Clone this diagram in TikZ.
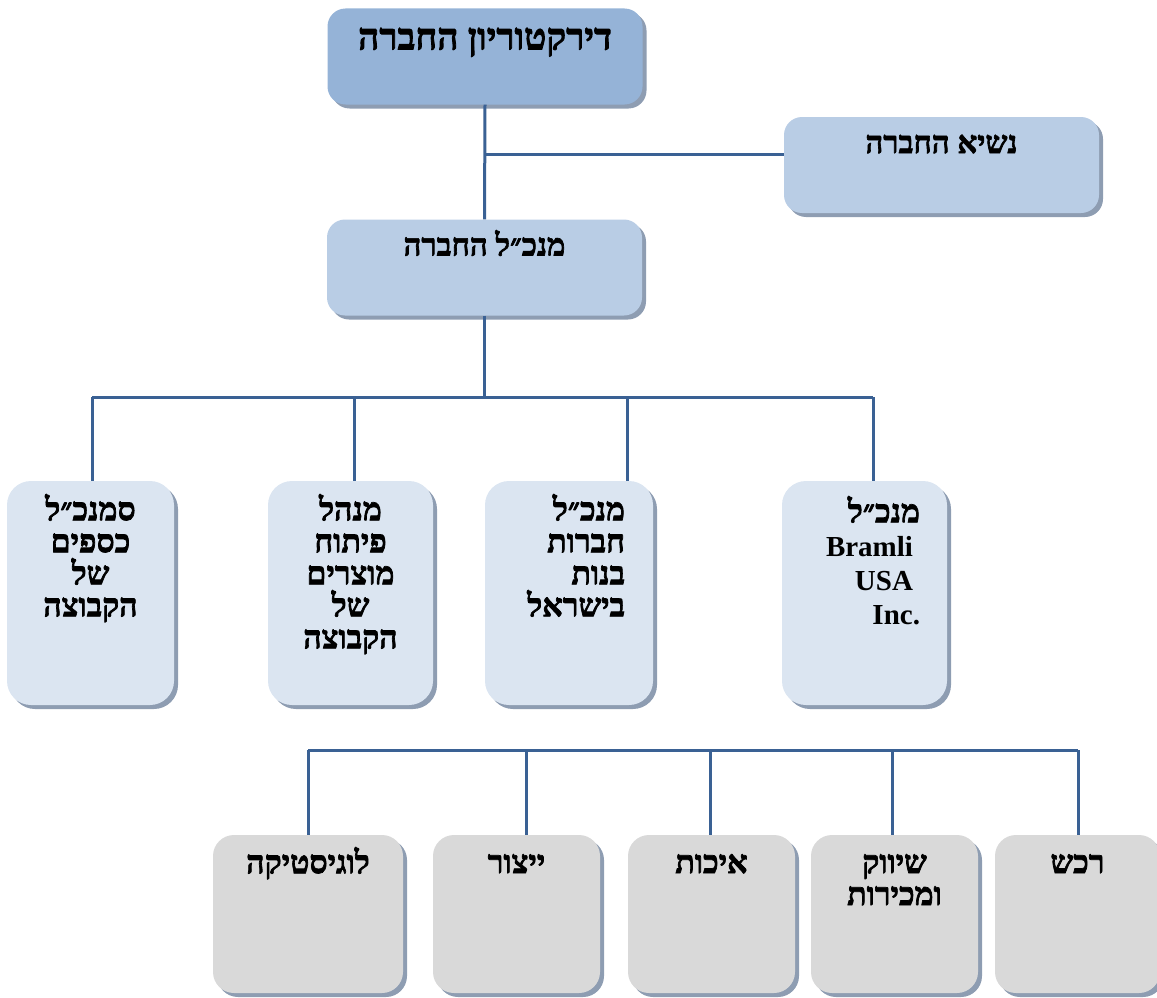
\documentclass[tikz,border=0pt]{standalone}
\usepackage{fontspec}
\setmainfont{Liberation Serif}
\newfontfamily\hebfont[Script=Hebrew, BoldFeatures={FakeBold=2.2}]{Liberation Serif}
\TeXXeTstate=1
\usetikzlibrary{positioning,shadows}

\definecolor{boardblue}{HTML}{95B3D7}
\definecolor{headblue}{HTML}{B9CDE5}
\definecolor{unitblue}{HTML}{DBE5F1}
\definecolor{deptgrey}{HTML}{D9D9D9}
\definecolor{shadegrey}{HTML}{8E9DB2}
\definecolor{linkblue}{HTML}{3A6194}

\newcommand{\heb}[1]{\beginR#1\endR}
\newcommand{\firststrut}{\rule{0pt}{26pt}}
\newcommand{\latin}[1]{{\rmfamily\bfseries\fontsize{29}{34}\selectfont #1}}

\begin{document}
\begin{tikzpicture}[
    x=1pt, y=-1pt,
    box/.style={rectangle, draw=none, inner sep=0pt,
      drop shadow={shadow xshift=4pt, shadow yshift=-4pt, opacity=1, fill=shadegrey}},
    widebox/.style={box, rounded corners=18pt, minimum width=315pt, minimum height=96pt},
    unitbox/.style={box, rounded corners=24pt, fill=unitblue, minimum width=167pt, minimum height=224pt},
    deptbox/.style={box, rounded corners=21pt, fill=deptgrey, minimum width=167pt, minimum height=158pt},
    boxtext/.style={inner sep=0pt, font=\hebfont\bfseries\fontsize{32}{32}\selectfont},
    link/.style={draw=linkblue, line width=3pt}
    ]
    \useasboundingbox (0,0) rectangle (1157,998);

    % top of the chart
    \node[widebox, fill=boardblue] (board) at (485,56.5) {};
    \node[widebox, fill=headblue] (pres) at (941.5,165) {};
    \node[widebox, fill=headblue] (ceo) at (484.5,267.5) {};
    \node[boxtext, font=\hebfont\bfseries\fontsize{37}{37}\selectfont, below=15pt of board.north] (boardtext)
      {\firststrut\heb{דירקטוריון החברה}};
    \node[boxtext, font=\hebfont\bfseries\fontsize{31}{32}\selectfont, below=10pt of pres.north] (prestext)
      {\firststrut\heb{נשיא החברה}};
    \node[boxtext, font=\hebfont\bfseries\fontsize{31}{32}\selectfont, below=10pt of ceo.north] (ceotext)
      {\firststrut\heb{מנכ״ל החברה}};

    % managers
    \node[unitbox] (fin) at (90.5,593) {};
    \node[unitbox, minimum width=165pt] (dev) at (350.5,593) {};
    \node[unitbox, minimum width=168pt] (subs) at (569,593) {};
    \node[unitbox, minimum width=165pt] (usa) at (864.5,593) {};
    \node[boxtext, align=center, below=13pt of fin.north] (fintext)
      {\firststrut\heb{סמנכ״ל}\\ \heb{כספים}\\ \heb{של}\\ \heb{הקבוצה}};
    \node[boxtext, align=center, below=13pt of dev.north] (devtext)
      {\firststrut\heb{מנהל}\\ \heb{פיתוח}\\ \heb{מוצרים}\\ \heb{של}\\ \heb{הקבוצה}};
    \node[boxtext, align=right, below left=13pt and 28pt of subs.north east] (substext)
      {\firststrut\heb{מנכ״ל}\\ \heb{חברות}\\ \heb{בנות}\\ \heb{בישראל}};
    \node[boxtext, font=\hebfont\bfseries\fontsize{32}{34}\selectfont, align=right,
      below left=15pt and 27pt of usa.north east] (usatext)
      {\firststrut\heb{מנכ״ל}\\ \latin{Bramli}\kern7pt\\ \latin{USA}\kern7pt\\ \latin{Inc.}};

    % departments
    \node[deptbox, minimum width=190pt] (logi) at (308,914) {};
    \node[deptbox] (prod) at (516.5,914) {};
    \node[deptbox] (qual) at (711.5,914) {};
    \node[deptbox] (sales) at (894.5,914) {};
    \node[deptbox, minimum width=165pt] (buy) at (1077.5,914) {};
    \node[boxtext, below=12pt of logi.north] (logitext) {\firststrut\heb{לוגיסטיקה}};
    \node[boxtext, below=12pt of prod.north] (prodtext) {\firststrut\heb{ייצור}};
    \node[boxtext, below=12pt of qual.north] (qualtext) {\firststrut\heb{איכות}};
    \node[boxtext, align=center, below=12pt of sales.north] (salestext)
      {\firststrut\heb{שיווק}\\ \heb{ומכירות}};
    \node[boxtext, below=12pt of buy.north] (buytext) {\firststrut\heb{רכש}};

    % connectors
    \coordinate (presjoin) at (485,154);
    \draw[link] (board.south) -- (ceo.north);
    \draw[link] (presjoin) -- (presjoin -| pres.west);

    \coordinate (busleft) at (92,397);
    \coordinate (busright) at (873,397);
    \draw[link] (ceo.south) -- (ceo.south |- busleft);
    \draw[link] (busleft) -- (busright);
    \foreach \dx/\unit in {92/fin, 354/dev, 627/subs, 873/usa}
      \draw[link] (\dx,397) -- (\dx,397 |- \unit.north);

    \coordinate (deptleft) at (308,750);
    \coordinate (deptright) at (1078,750);
    \draw[link] (deptleft) -- (deptright);
    \foreach \dx/\dept in {308/logi, 526/prod, 710/qual, 892/sales, 1078/buy}
      \draw[link] (\dx,750) -- (\dx,750 |- \dept.north);

\end{tikzpicture}
\end{document}
